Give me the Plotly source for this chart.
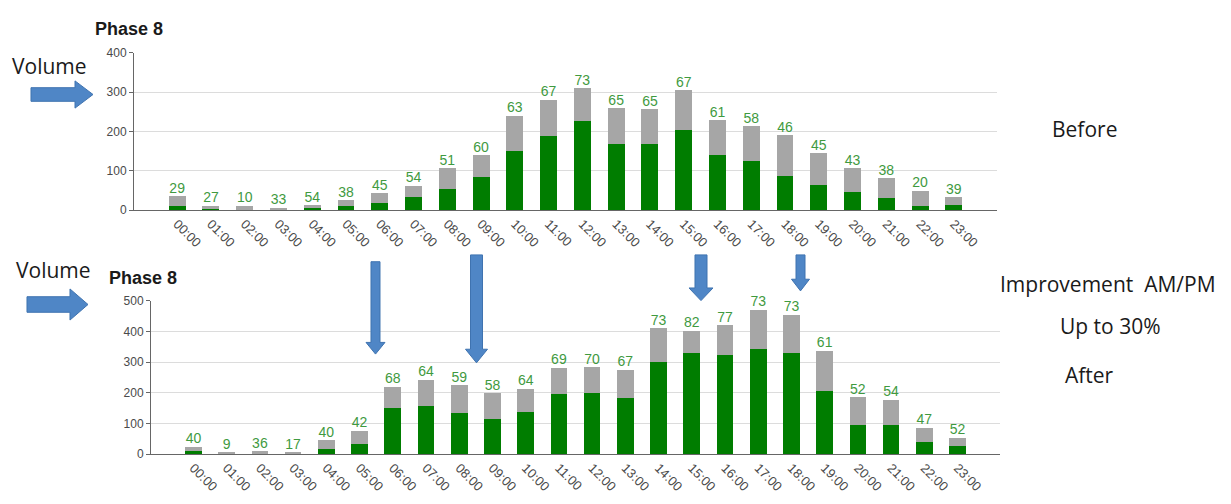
import plotly.graph_objects as go

W, H = 1231, 504

hours = ["%02d:00" % h for h in range(24)]

# Before (top chart)
before_total = [36, 11, 11, 6, 12, 25, 43, 62, 107, 140, 240, 281, 310, 259, 256, 305, 228, 213, 190, 144, 106, 81, 49, 33]
before_green = [10, 3, 1, 2, 7, 10, 19, 33, 55, 84, 151, 189, 227, 168, 167, 204, 139, 124, 88, 65, 46, 31, 10, 13]
before_pct = [29, 27, 10, 33, 54, 38, 45, 54, 51, 60, 63, 67, 73, 65, 65, 67, 61, 58, 46, 45, 43, 38, 20, 39]

# After (bottom chart)
after_total = [24, 7, 10, 6, 45, 76, 220, 243, 225, 199, 213, 282, 283, 275, 410, 402, 419, 470, 454, 336, 185, 178, 86, 53]
after_green = [10, 1, 4, 1, 18, 32, 150, 156, 133, 115, 136, 195, 198, 184, 299, 330, 323, 343, 331, 205, 96, 96, 40, 28]
after_pct = [40, 9, 36, 17, 40, 42, 68, 64, 59, 58, 64, 69, 70, 67, 73, 82, 77, 73, 73, 61, 52, 54, 47, 52]

GREEN = "#007d00"
GRAY = "#a6a6a6"
LABEL = "#3f9a3f"


def px(x):
    return x / W


def py(y):
    return 1 - y / H


fig = go.Figure()


def add_chart(totals, greens, pcts, xa, ya):
    grays = [t - g for t, g in zip(totals, greens)]
    fig.add_trace(go.Bar(x=hours, y=greens, marker=dict(color=GREEN, line=dict(width=0)),
                         xaxis=xa, yaxis=ya, showlegend=False, hoverinfo="skip"))
    fig.add_trace(go.Bar(x=hours, y=grays, marker=dict(color=GRAY, line=dict(width=0)),
                         xaxis=xa, yaxis=ya, showlegend=False, hoverinfo="skip"))
    fig.add_trace(go.Scatter(x=hours, y=totals, mode="text", text=[str(p) for p in pcts],
                             textposition="top center", cliponaxis=False,
                             textfont=dict(family="Liberation Sans, Arial", size=14, color=LABEL),
                             xaxis=xa, yaxis=ya, showlegend=False, hoverinfo="skip"))


add_chart(before_total, before_green, before_pct, "x", "y")
add_chart(after_total, after_green, after_pct, "x2", "y2")

xfont = dict(family="Liberation Sans, Arial", size=13, color="#4a4a4a")
yfont = dict(family="Liberation Sans, Arial", size=12, color="#4a4a4a")
xcommon = dict(tickangle=45, tickfont=xfont, showgrid=False, showline=True,
               linecolor="#666666", linewidth=1, ticks="", zeroline=False, fixedrange=True)
ycommon = dict(tickfont=yfont, showgrid=True, gridcolor="#dcdcdc", gridwidth=1,
               showline=True, linecolor="#666666", linewidth=1, ticks="outside",
               ticklen=4, tickcolor="#666666", zeroline=False, dtick=100, fixedrange=True)

fig.update_layout(
    width=W, height=H,
    margin=dict(l=0, r=0, t=0, b=0),
    paper_bgcolor="white", plot_bgcolor="white",
    barmode="stack", bargap=0.5,
    xaxis=dict(domain=[px(134), px(997)], anchor="y", **xcommon),
    yaxis=dict(domain=[py(209), py(47)], range=[0, 400], anchor="x", **ycommon),
    xaxis2=dict(domain=[px(151), px(1000)], anchor="y2", **xcommon),
    yaxis2=dict(domain=[py(460), py(302)], range=[0, 500], anchor="x2", **ycommon),
    showlegend=False,
)

txt_font = dict(family="Open Sans, Noto Sans", size=21, color="#1a1a1a")
ph_font = dict(family="Liberation Sans, Arial", size=18, color="#1a1a1a")
ann = [
    dict(x=px(93), y=py(23), text="<b>Phase 8</b>", xanchor="left", font=ph_font),
    dict(x=px(107), y=py(279), text="<b>Phase 8</b>", xanchor="left", font=ph_font),
    dict(x=px(10), y=py(61), text="Volume", xanchor="left", font=txt_font),
    dict(x=px(14), y=py(271), text="Volume", xanchor="left", font=txt_font),
    dict(x=px(1050), y=py(125), text="Before", xanchor="left", font=txt_font),
    dict(x=px(998), y=py(285), text="Improvement  AM/PM", xanchor="left", font=txt_font),
    dict(x=px(1058), y=py(328), text="Up to 30%", xanchor="left", font=txt_font),
    dict(x=px(1063), y=py(378), text="After", xanchor="left", font=txt_font),
]
for a in ann:
    a.update(xref="paper", yref="paper", yanchor="middle", showarrow=False)
fig.update_layout(annotations=ann)


def right_arrow(x0, x1, xh, yc, sh, hh):
    pts = [(x0, yc - sh), (xh, yc - sh), (xh, yc - hh), (x1, yc), (xh, yc + hh), (xh, yc + sh), (x0, yc + sh)]
    return pts


def down_arrow(xc, y0, yh, y1, sw, hw):
    pts = [(xc - sw, y0), (xc + sw, y0), (xc + sw, yh), (xc + hw, yh), (xc, y1), (xc - hw, yh), (xc - sw, yh)]
    return pts


arrows = [
    right_arrow(31, 93, 75, 90, 7, 14),
    right_arrow(27, 88, 70, 306, 8, 16),
    down_arrow(375.5, 262, 345, 357, 4.5, 9.5),
    down_arrow(476.5, 255, 352, 366, 6, 11),
    down_arrow(701, 255, 289, 302, 6, 12),
    down_arrow(800.5, 255, 280, 292, 4.5, 9),
]
shapes = []
for pts in arrows:
    path = "M " + " L ".join("%.5f,%.5f" % (px(x), py(y)) for x, y in pts) + " Z"
    shapes.append(dict(type="path", xref="paper", yref="paper", path=path,
                       fillcolor="#4f86c6", line=dict(color="#3f73b0", width=1)))
fig.update_layout(shapes=shapes)

fig.write_html("out.html")
